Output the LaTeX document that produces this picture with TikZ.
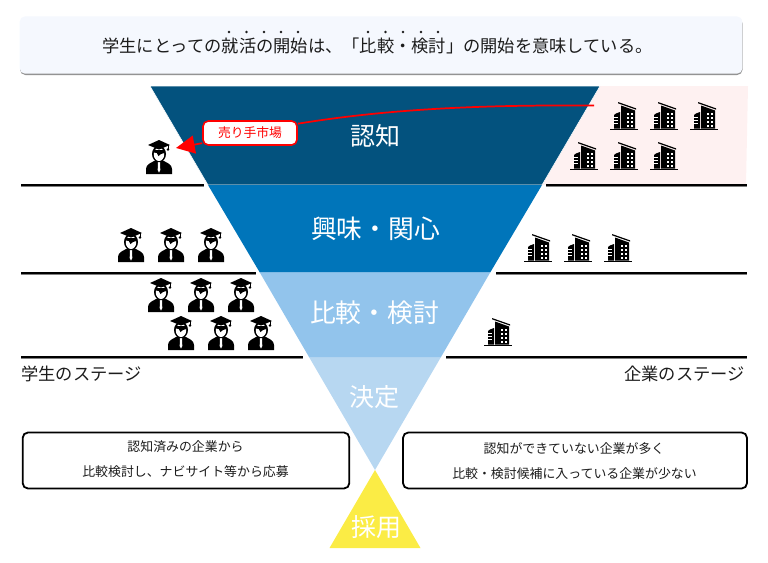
\documentclass[tikz,border=0pt]{standalone}
\usepackage{fontspec}
\setmainfont{Noto Sans CJK JP}
\usetikzlibrary{arrows.meta}
\definecolor{topfill}{HTML}{F5F8FE}
\definecolor{band1}{HTML}{03527E}
\definecolor{band2}{HTML}{0075BA}
\definecolor{band3}{HTML}{92C4EC}
\definecolor{band4}{HTML}{B7D7F1}
\definecolor{yel}{HTML}{FBEC45}
\definecolor{pinkbg}{HTML}{FEF1F1}
\definecolor{txt}{HTML}{1C1C1C}
\newcommand{\fs}[1]{\fontsize{\dimexpr #1pt*3/4\relax}{\dimexpr #1pt*9/10\relax}\selectfont}
\tikzset{
  funneltext/.style={text=white,font=\fs{25},inner sep=0pt},
  widefunnel/.style={text=white,font=\fs{25.8},inner sep=0pt},
  darktext/.style={text=txt,font=\fs{17.25},inner sep=0pt},
  smalltext/.style={text=txt,font=\fs{12.9},inner sep=0pt},
  notebox/.style={draw=black,line width=1.35pt,rounded corners=4pt,fill=white},
  stageline/.style={draw=black,line width=1.3pt,preaction={draw=gray,line width=1.3pt,transform canvas={yshift=-0.5pt}}},
  marketline/.style={draw=red,line width=1.3pt},
  marketbox/.style={draw=red,line width=1.2pt,fill=white,rounded corners=4pt,text=red,font=\fs{12.8},minimum width=70.5pt,minimum height=18pt,inner sep=0pt},
  iconanchor/.style={minimum width=25.5pt,minimum height=25.5pt,inner sep=0pt,outer sep=0pt},
  emdot/.style={fill=txt,draw=none},
  student/.pic={
    \fill[black] (-13,17) -- (-13,12) .. controls (-13,7) and (-8,6) .. (-4,3.5) -- (4,3.5) .. controls (8,6) and (13,7) .. (13,12) -- (13,17) -- cycle;
    \fill[white] (-1,5) -- (1,5) -- (1.3,13) -- (0,15.5) -- (-1.3,13) -- cycle;
    \fill[black] (0,-3) ellipse [x radius=7,y radius=8.2];
    \fill[white] (0,-2.6) ellipse [x radius=5.2,y radius=6.6];
    \fill[black] (-5.5,-7) -- (5.5,-7) -- (5.5,-4) .. controls (3,-3.5) and (1,-3) .. (-0.5,-1) .. controls (-1,-4) and (-3,-5) .. (-5.5,-4.5) -- cycle;
    \fill[black] (-11,-12) -- (0,-17) -- (11,-12) -- (0,-7.5) -- cycle;
    \draw[black,line width=0.6pt] (9,-12) -- (9,-8.5);
    \fill[black] (9,-7.5) circle [radius=1.3];
  },
  company/.pic={
    \fill[black] (-14,12.5) rectangle (14,14);
    \fill[black] (-4,-4) -- (-8,-2.5) -- (-10,-1) -- (-10,12.5) -- (-4,12.5) -- cycle;
    \foreach \yy in {1,4,7} {\fill[white] (-11,\yy) rectangle (-6.5,\yy+1);}
    \fill[black] (-3,-10.5) -- (11,-5.5) -- (11,12.5) -- (-3,12.5) -- cycle;
    \foreach \yy in {-3,1,5,9} {\foreach \xx in {3,7} {\fill[white] (\xx,\yy) rectangle (\xx+2,\yy+2);}}
    \fill[black] (-6,-14) -- (12,-7.7) -- (12,-6.4) -- (-6,-12.7) -- cycle;
  }
}
\newcommand{\studenticon}[3]{\node[iconanchor] (#1) at (#2,#3) {}; \pic at (#1) {student};}
\newcommand{\companyicon}[3]{\node[iconanchor] (#1) at (#2,#3) {}; \pic at (#1) {company};}
\begin{document}
\begin{tikzpicture}[x=0.75pt,y=-0.75pt]
\useasboundingbox (0,0) rectangle (768,562);
% heading box
\fill[gray!85,rounded corners=4pt] (20,18) rectangle (742.5,75);
\node[draw=none,fill=topfill,rounded corners=4pt,minimum width=542pt,minimum height=43pt,inner sep=0pt] (head) at (381,45) {};
\node[darktext] (headtext) at (377.5,46) {学生にとっての就活の開始は、「比較・検討」の開始を意味している。};
\foreach \dx in {229,246.5,264,281,298,368,385.5,403,421,438} {\fill[emdot] (\dx,32) circle [radius=1.3];}
% pink background and funnel
\fill[pinkbg] (600,86) -- (748,86) -- (746,185) -- (541,185) -- cycle;
\fill[band4] (309,357) -- (441,357) -- (375,470) -- cycle;
\fill[band3] (259.5,272) -- (490.5,272) -- (441,357) -- (309,357) -- cycle;
\fill[band2] (208,185) -- (542,185) -- (490.5,272) -- (259.5,272) -- cycle;
\filldraw[fill=band1,draw=white,line width=0.4pt] (150,86) -- (600,86) -- (542,185) -- (208,185) -- cycle;
\fill[band2] (208.5,185) -- (541.5,185) -- (540.5,187) -- (209.5,187) -- cycle;
\fill[yel] (375,470) -- (420.5,548) -- (329.5,548) -- cycle;
\node[funneltext] (f1) at (375,136) {認知};
\node[widefunnel] (f2) at (375.5,229) {興味・関心};
\node[widefunnel] (f3) at (374.5,313) {比較・検討};
\node[funneltext] (f4) at (374,397) {決定};
\node[funneltext] (f5) at (376,527) {採用};
% stage lines
\coordinate (l1a) at (21,185); \coordinate (l1b) at (204,185);
\coordinate (l2a) at (21,273); \coordinate (l2b) at (256,273);
\coordinate (l3a) at (21,357); \coordinate (l3b) at (303,357);
\coordinate (r1a) at (546,185); \coordinate (r1b) at (747,185);
\coordinate (r2a) at (496,273); \coordinate (r2b) at (747,273);
\coordinate (r3a) at (446,357); \coordinate (r3b) at (747,357);
\foreach \pa/\pb in {l1a/l1b,l2a/l2b,l3a/l3b,r1a/r1b,r2a/r2b,r3a/r3b} {\draw[stageline] (\pa) -- (\pb);}
% icons
\studenticon{s1}{159}{157}
\studenticon{s2}{131}{245}
\studenticon{s3}{171}{245}
\studenticon{s4}{211}{245}
\studenticon{s5}{161}{295}
\studenticon{s6}{201}{295}
\studenticon{s7}{241}{295}
\studenticon{s8}{181}{333}
\studenticon{s9}{221}{333}
\studenticon{s10}{261}{333}
\companyicon{c1}{624}{116}
\companyicon{c2}{664}{116}
\companyicon{c3}{704}{116}
\companyicon{c4}{584}{156}
\companyicon{c5}{624}{156}
\companyicon{c6}{664}{156}
\companyicon{c7}{538}{248}
\companyicon{c8}{578}{248}
\companyicon{c9}{618}{248}
\companyicon{c10}{498}{332}
% market arrow
\coordinate (mstart) at (594,105.5);
\node[marketbox] (market) at (250,133) {売り手市場};
\draw[marketline] (mstart) .. controls (500,105) and (400,107) .. (market.11);
\draw[marketline,-{Triangle[length=14pt,width=13.5pt]}] (market.192) -- (s1.28);
% stage captions
\node[darktext,anchor=west] (cap1) at (21,374) {学生のステージ};
\node[darktext,anchor=east] (cap2) at (745,374) {企業のステージ};
% note boxes
\node[notebox,minimum width=245pt,minimum height=42pt] (noteL) at (186,460.5) {};
\node[smalltext] (nl1) at (185.5,447) {認知済みの企業から};
\node[smalltext] (nl2) at (185.5,472) {比較検討し、ナビサイト等から応募};
\node[notebox,minimum width=258pt,minimum height=42pt] (noteR) at (575,460.5) {};
\node[smalltext] (nr1) at (574,449) {認知ができていない企業が多く};
\node[smalltext] (nr2) at (574.5,474) {比較・検討候補に入っている企業が少ない};
\end{tikzpicture}
\end{document}
